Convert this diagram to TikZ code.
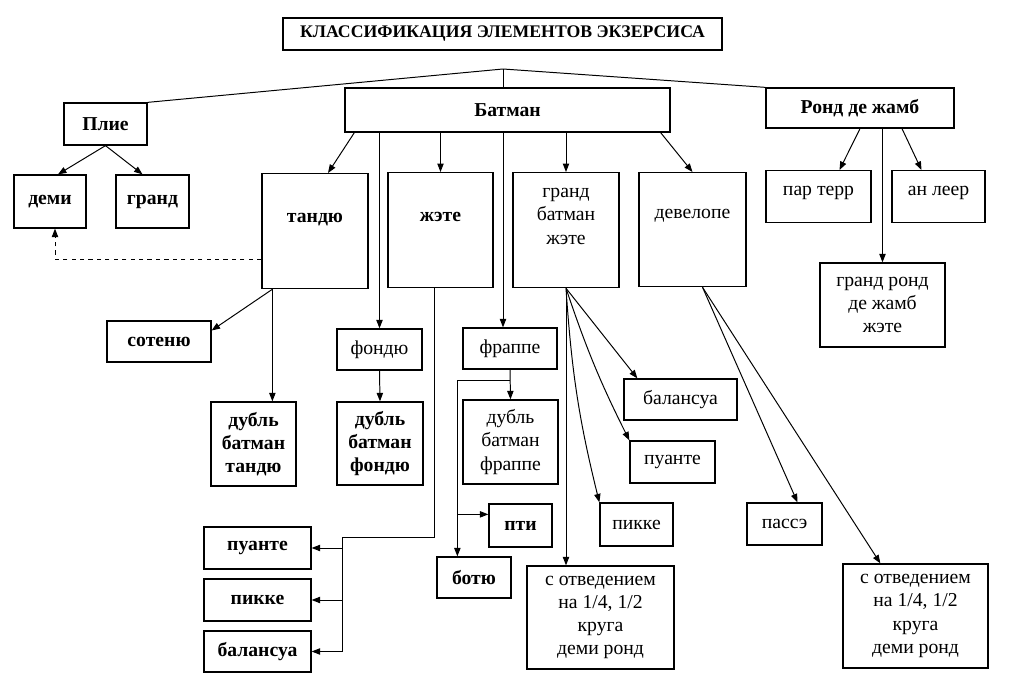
\documentclass[tikz,border=0pt]{standalone}
\usepackage{fontspec}
\setmainfont{Liberation Serif}
\usetikzlibrary{arrows.meta,calc}
\tikzset{
	box/.style={draw, line width=0.9pt, inner sep=0pt, align=center,
		font=\fontsize{14}{16.5}\selectfont},
	bbox/.style={box, font=\bfseries\fontsize{14}{16.5}\selectfont},
	sz/.style 2 args={minimum width=#1*0.025cm, minimum height=#2*0.025cm},
	tall/.style n args={3}{anchor=north, minimum width=#1*0.025cm,
		text height=#2*0.025cm, text depth=#3*0.025cm}
}
\begin{document}
\begin{tikzpicture}[x=0.025cm, y=-0.025cm, line width=0.7pt,
		>={Triangle[length=6pt,width=4.5pt]}]
		\useasboundingbox (0,0) rectangle (1015,688);

		\node[draw, line width=2pt, sz={439}{32}, inner sep=0pt,
			font=\bfseries\fontsize{12.6}{14}\selectfont] (title) at (502.5,34)
			{КЛАССИФИКАЦИЯ ЭЛЕМЕНТОВ ЭКЗЕРСИСА};

		\node[bbox, sz={83}{42}] (plie) at (105.5,124) {Плие};
		\node[bbox, sz={325}{44}] (batman) at (507.5,110) {Батман};
		\node[bbox, sz={188}{40}] (rond) at (860,108) {Ронд де жамб};

		\node[bbox, sz={72}{53}] (demi) at (50,201.5) {деми};
		\node[bbox, sz={73}{53}] (grand) at (152.5,201.5) {гранд};

		\node[bbox, tall={106}{49}{66}] (tandu) at (315,173) {тандю};
		\node[bbox, tall={105}{49}{66}] (zhete) at (440.5,172) {жэте};
		\node[box, tall={106}{25}{90}] (gbj) at (566,172)
			{\begin{tabular}[t]{@{}c@{}}гранд\\батман\\жэте\end{tabular}};
		\node[box, tall={107}{46}{68}] (devel) at (692.5,172) {девелопе};

		\node[box, tall={105}{25}{27}] (parterr) at (818.5,170) {пар терр};
		\node[box, tall={93}{25}{27}] (anleer) at (938.5,170) {ан леер};
		\node[box, sz={125}{84}] (grrond) at (882.5,305) {гранд ронд\\де жамб\\жэте};

		\node[bbox, sz={104}{41}] (sotenu) at (159,341.5) {сотеню};
		\node[box, sz={85}{41}] (fondu) at (379.5,349.5) {фондю};
		\node[box, sz={94}{41}] (frappe) at (510,348.5) {фраппе};

		\node[bbox, sz={85}{84}] (dbt) at (253.5,444) {дубль\\батман\\тандю};
		\node[bbox, sz={86}{83}] (dbf) at (380,443.5) {дубль\\батман\\фондю};
		\node[box, sz={95}{84}] (dbfr) at (510.5,442) {дубль\\батман\\фраппе};

		\node[bbox, sz={63}{43}] (pti) at (520.5,525.5) {пти};
		\node[bbox, sz={74}{41}] (botu) at (474,577.5) {ботю};

		\node[bbox, sz={107}{42}] (puanteL) at (257.5,548) {пуанте};
		\node[bbox, sz={107}{42}] (pikkeL) at (257.5,600) {пикке};
		\node[bbox, sz={107}{41}] (balansuaL) at (257.5,651.5) {балансуа};

		\node[box, sz={113}{41}] (balansuaR) at (680.5,399.5) {балансуа};
		\node[box, sz={85}{42}] (puanteR) at (672.5,462) {пуанте};
		\node[box, sz={73}{43}] (pikkeR) at (636.5,524.5) {пикке};
		\node[box, sz={147}{103}] (otved1) at (600.5,617.5) {с отведением\\на 1/4, 1/2\\круга\\деми ронд};

		\node[box, sz={75}{42}] (passe) at (784.5,524) {пассэ};
		\node[box, sz={145}{104}] (otved2) at (915.5,616) {с отведением\\на 1/4, 1/2\\круга\\деми ронд};

		% top branches
		\coordinate (top) at (503,69);
		\draw (top) -- (plie.north east);
		\draw (top) -- (rond.north west);
		\draw (top) -- (top |- batman.north);

		\draw[->] (plie.south) -- ($(demi.north)+(8,0)$);
		\draw[->] (plie.south) -- ($(grand.north)+(-10,0)$);

		% batman
		\draw[->] ($(batman.south west)+(10,0)$) -- ($(tandu.north)+(13,0)$);
		\draw[->] (batman.south -| fondu.north) -- (fondu.north);
		\draw[->] (batman.south -| zhete.north) -- (zhete.north);
		\draw[->] (batman.south -| top) -- (top |- frappe.north);
		\draw[->] (batman.south -| gbj.north) -- (gbj.north);
		\draw[->] ($(batman.south east)+(-10,0)$) -- (devel.north);

		% rond de jambe
		\draw[->] (rond.south) -- ($(parterr.north)+(21,0)$);
		\draw[->] ($(rond.south)+(42,0)$) -- ($(anleer.north)+(-17,0)$);
		\draw[->] (rond.south -| grrond.north) -- (grrond.north);

		\draw[dashed,->] ($(tandu.south west)+(0,-30)$) -| ($(demi.south)+(5,0)$);

		% tandu
		\coordinate (tb) at ($(tandu.south west)+(11,0)$);
		\draw[->] (tb) -- ($(sotenu.east)+(0,-11)$);
		\draw[->] (tb) -- (tb |- dbt.north);
		\draw[->] (fondu.south) -- (dbf.north);

		% frappe
		\draw[->] (frappe.south) -- (dbfr.north);
		\coordinate (fj) at ($(frappe.south)+(0,11)$);
		\coordinate (fl) at ($(botu.north west)+(21,0)$);
		\coordinate (pa) at ($(pti.north west)+(0,11)$);
		\draw[->] (fj) -| (fl);
		\draw[->] (fl |- pa) -- (pa);

		% jete
		\coordinate (zb) at ($(zhete.south west)+(47,0)$);
		\coordinate (zc) at ($(puanteL.east)+(31,-11)$);
		\draw (zb) |- (zc) -- (zc |- balansuaL.east);
		\foreach \n in {puanteL,pikkeL,balansuaL}
			\draw[->] (zc |- \n.east) -- (\n.east);

		% grand batman jete
		\draw[->] (gbj.south) -- (gbj.south |- otved1.north);
		\draw[->] (gbj.south) to[bend right=5] (pikkeR.north west);
		\draw[->] (gbj.south) to[bend right=4] (puanteR.north west);
		\draw[->] (gbj.south) -- ($(balansuaR.north west)+(14,0)$);

		% developpe
		\coordinate (db) at ($(devel.south)+(10,0)$);
		\draw[->] (db) -- ($(passe.north)+(13,0)$);
		\draw[->] (db) -- ($(otved2.north west)+(38,0)$);
	\end{tikzpicture}
\end{document}
